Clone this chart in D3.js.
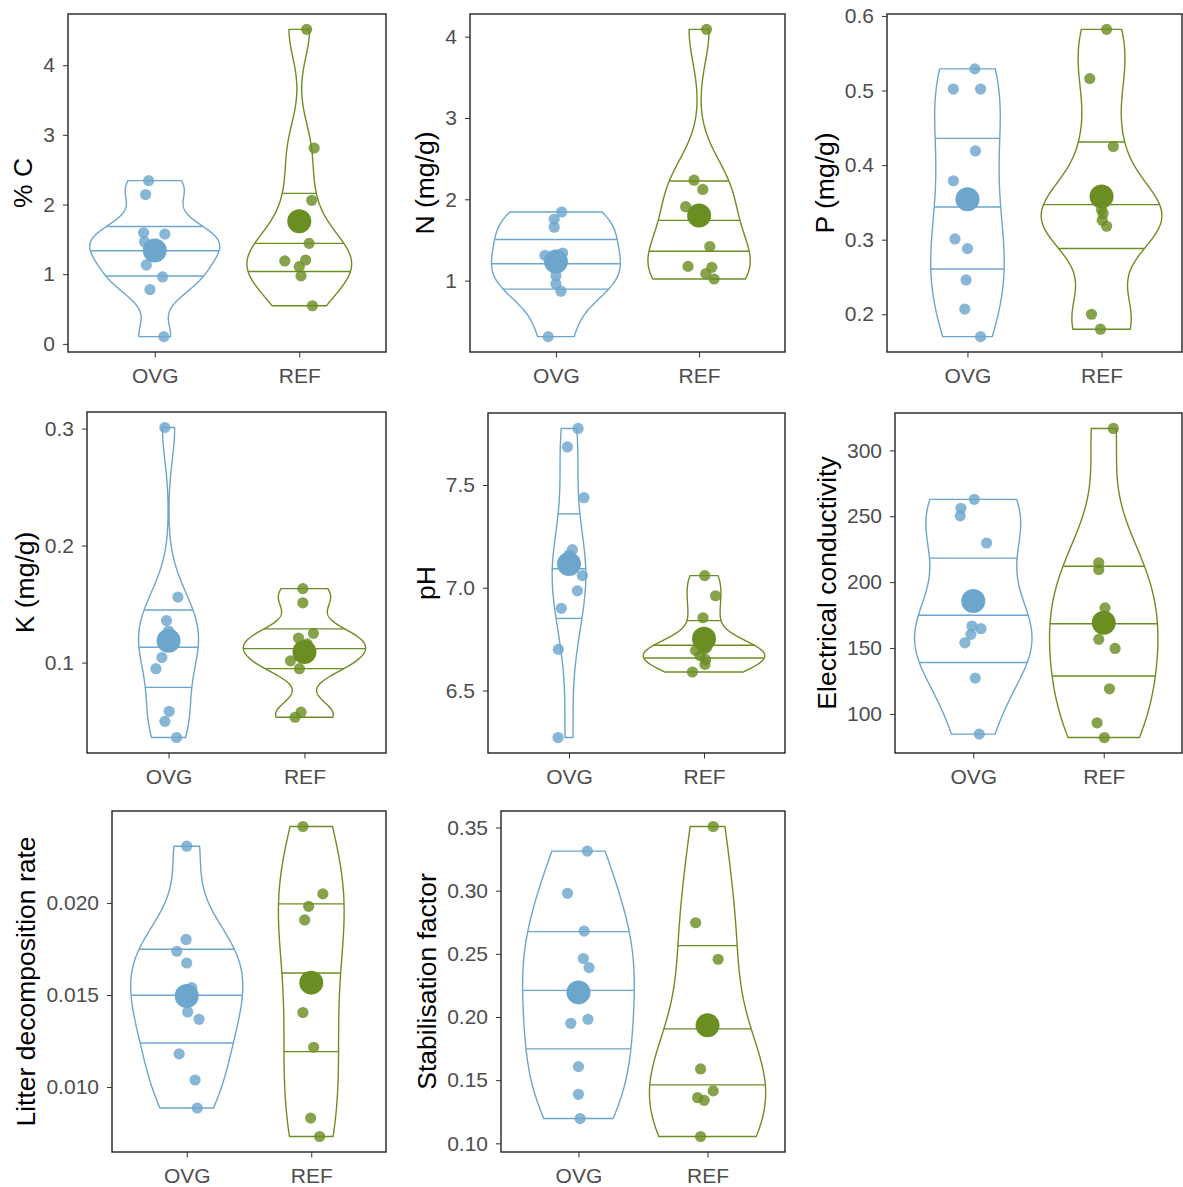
<!DOCTYPE html>
<html>
<head>
<meta charset="utf-8">
<script src="https://cdn.jsdelivr.net/npm/d3@7"></script>
<style>
  body { margin: 0; background: #fff; }
  text { font-family: "Liberation Sans", Arial, sans-serif; }
</style>
</head>
<body>
<div id="chart"></div>
<script>
// categories + colours
const groups = ["OVG", "REF"];
const groupColor = { OVG: "#6CA6CD", REF: "#6B8E23" };

// % C
const cOvg = [2.343, 2.143, 1.594, 1.576, 1.466, 1.31, 1.133, 0.961, 0.78, 0.104];
const cOvgJit = [-0.042, -0.063, -0.077, 0.070, -0.070, 0.0, -0.058, 0.054, -0.033, 0.063];
const cRef = [4.514, 2.809, 2.061, 1.443, 1.19, 1.204, 1.109, 0.976, 0.547];
const cRefJit = [0.051, 0.103, 0.086, 0.068, -0.100, 0.044, 0, 0.012, 0.091];
const cTicks = [0, 1, 2, 3, 4];
const cTickLabels = ["0", "1", "2", "3", "4"];

// N (mg/g)
const nOvg = [1.844, 1.754, 1.657, 1.31, 1.339, 1.06, 0.96, 0.87, 0.311];
const nOvgJit = [0.040, -0.012, -0.012, -0.077, 0.047, 0.0, 0, 0.035, -0.054];
const nRef = [4.09, 2.235, 2.121, 1.909, 1.419, 1.175, 1.163, 1.086, 1.02];
const nRefJit = [0.052, -0.035, 0.026, -0.094, 0.075, -0.077, 0.089, 0.047, 0.105];
const nTicks = [1, 2, 3, 4];
const nTickLabels = ["1", "2", "3", "4"];

// P (mg/g)
const pOvg = [0.529, 0.502, 0.502, 0.419, 0.379, 0.301, 0.288, 0.246, 0.207, 0.170];
const pOvgJit = [0.055, -0.105, 0.098, 0.06, -0.105, -0.093, 0, -0.01, -0.02, 0.098];
const pRef = [0.582, 0.516, 0.425, 0.34, 0.335, 0.326, 0.318, 0.200, 0.180];
const pRefJit = [0.038, -0.088, 0.088, 0.0, 0.012, 0.005, 0.038, -0.075, -0.008];
const pTicks = [0.2, 0.3, 0.4, 0.5, 0.6];
const pTickLabels = ["0.2", "0.3", "0.4", "0.5", "0.6"];

// K (mg/g)
const kOvg = [0.3009, 0.156, 0.1359, 0.127, 0.124, 0.1043, 0.0948, 0.0584, 0.0498, 0.036];
const kOvgJit = [-0.027, 0.069, -0.015, 0.0, 0.02, -0.049, -0.093, 0.005, -0.027, 0.059];
const kRef = [0.1632, 0.1511, 0.125, 0.121, 0.116, 0.108, 0.1015, 0.0948, 0.0576, 0.0533];
const kRefJit = [-0.012, -0.012, 0.066, -0.044, 0.02, -0.01, -0.103, -0.037, -0.025, -0.069];
const kTicks = [0.1, 0.2, 0.3];
const kTickLabels = ["0.1", "0.2", "0.3"];

// pH
const phOvg = [7.775, 7.685, 7.438, 7.185, 7.16, 7.059, 6.985, 6.90, 6.70, 6.271];
const phOvgJit = [0.067, -0.012, 0.111, 0.025, 0.0, 0.099, 0.062, -0.057, -0.079, -0.081];
const phRef = [7.059, 6.961, 6.854, 6.70, 6.71, 6.67, 6.695, 6.65, 6.627, 6.59];
const phRefJit = [0.005, 0.086, -0.007, 0.0, 0.02, -0.03, -0.062, 0.012, 0.007, -0.086];
const phTicks = [6.5, 7.0, 7.5];
const phTickLabels = ["6.5", "7.0", "7.5"];

// Electrical conductivity
const ecOvg = [262.8, 256.0, 250.3, 229.7, 166.7, 164.7, 160.4, 154.0, 127.2, 84.7];
const ecOvgJit = [0.008, -0.095, -0.1, 0.102, -0.01, 0.059, -0.018, -0.064, 0.015, 0.046];
const ecRef = [316.6, 214.7, 209.6, 180.5, 156.6, 149.7, 119.1, 93.3, 82.1];
const ecRefJit = [0.074, -0.038, -0.038, 0.01, -0.038, 0.087, 0.044, -0.051, 0.005];
const ecTicks = [100, 150, 200, 250, 300];
const ecTickLabels = ["100", "150", "200", "250", "300"];

// Litter decomposition rate
const ldOvg = [0.02309, 0.01802, 0.01738, 0.01674, 0.0154, 0.01408, 0.01368, 0.0118, 0.01038, 0.00886];
const ldOvgJit = [0, -0.005, -0.08, 0, 0.04, 0.008, 0.099, -0.061, 0.067, 0.085];
const ldRef = [0.02416, 0.0205, 0.01982, 0.01908, 0.01405, 0.01216, 0.00831, 0.00731];
const ldRefJit = [-0.067, 0.093, -0.021, -0.053, -0.067, 0.019, -0.005, 0.067];
const ldTicks = [0.010, 0.015, 0.020];
const ldTickLabels = ["0.010", "0.015", "0.020"];

// Stabilisation factor
const sfOvg = [0.3313, 0.2979, 0.268, 0.2463, 0.2391, 0.1982, 0.195, 0.1607, 0.1388, 0.1196];
const sfOvgJit = [0.069, -0.085, 0.044, 0.038, 0.082, 0.074, -0.059, 0, 0, 0.013];
const sfRef = [0.3508, 0.2746, 0.2457, 0.1589, 0.1415, 0.1361, 0.134, 0.1054];
const sfRefJit = [0.044, -0.092, 0.082, -0.054, 0.044, -0.077, -0.026, -0.054];
const sfTicks = [0.10, 0.15, 0.20, 0.25, 0.30, 0.35];
const sfTickLabels = ["0.10", "0.15", "0.20", "0.25", "0.30", "0.35"];

const panels = [
  { title: "% C", ovg: cOvg, ovgJit: cOvgJit, ref: cRef, refJit: cRefJit, ticks: cTicks, labels: cTickLabels, box: { x: 68, y: 14, w: 318, h: 338 } },
  { title: "N (mg/g)", ovg: nOvg, ovgJit: nOvgJit, ref: nRef, refJit: nRefJit, ticks: nTicks, labels: nTickLabels, box: { x: 470, y: 14, w: 315, h: 338 } },
  { title: "P (mg/g)", ovg: pOvg, ovgJit: pOvgJit, ref: pRef, refJit: pRefJit, ticks: pTicks, labels: pTickLabels, box: { x: 887, y: 14, w: 295, h: 338 } },
  { title: "K (mg/g)", ovg: kOvg, ovgJit: kOvgJit, ref: kRef, refJit: kRefJit, ticks: kTicks, labels: kTickLabels, box: { x: 87, y: 412, w: 299, h: 341 } },
  { title: "pH", ovg: phOvg, ovgJit: phOvgJit, ref: phRef, refJit: phRefJit, ticks: phTicks, labels: phTickLabels, box: { x: 488, y: 413, w: 297, h: 340 } },
  { title: "Electrical conductivity", ovg: ecOvg, ovgJit: ecOvgJit, ref: ecRef, refJit: ecRefJit, ticks: ecTicks, labels: ecTickLabels, box: { x: 895, y: 413, w: 287, h: 340 } },
  { title: "Litter decomposition rate", ovg: ldOvg, ovgJit: ldOvgJit, ref: ldRef, refJit: ldRefJit, ticks: ldTicks, labels: ldTickLabels, box: { x: 112, y: 811, w: 274, h: 341 } },
  { title: "Stabilisation factor", ovg: sfOvg, ovgJit: sfOvgJit, ref: sfRef, refJit: sfRefJit, ticks: sfTicks, labels: sfTickLabels, box: { x: 501, y: 811, w: 284, h: 341 } }
];

const svg = d3.select("#chart").append("svg")
  .attr("width", 1183)
  .attr("height", 1187);

// bandwidth like R's bw.nrd0
function bwNrd0(x) {
  const s = d3.deviation(x);
  const iqr = d3.quantile(x, 0.75) - d3.quantile(x, 0.25);
  let lo = Math.min(s, iqr / 1.34);
  if (!lo) lo = s || 1;
  return 0.9 * lo * Math.pow(x.length, -0.2);
}

// gaussian kde, trimmed to the data range (512 points, as ggplot does)
function kde(x) {
  const bw = bwNrd0(x);
  const [lo, hi] = d3.extent(x);
  const n = 512;
  const k = 1 / (x.length * bw * Math.sqrt(2 * Math.PI));
  return d3.range(n).map(i => {
    const y = lo + (hi - lo) * i / (n - 1);
    const s = d3.sum(x, v => Math.exp(-0.5 * ((y - v) / bw) ** 2));
    return { y: y, d: s * k };
  });
}

function drawPanel(p) {
  const g = svg.append("g").attr("transform", `translate(${p.box.x},${p.box.y})`);
  const all = p.ovg.concat(p.ref);
  const ext = d3.extent(all);
  const pad = (ext[1] - ext[0]) * 0.05;

  const y = d3.scaleLinear().domain([ext[0] - pad, ext[1] + pad]).range([p.box.h, 0]);
  const x = d3.scalePoint().domain(groups).range([0, p.box.w]).padding(0.6);

  const sets = [
    { key: "OVG", vals: p.ovg, jit: p.ovgJit },
    { key: "REF", vals: p.ref, jit: p.refJit }
  ];
  sets.forEach(s => { s.dens = kde(s.vals); });
  const maxD = d3.max(sets, s => d3.max(s.dens, d => d.d));
  const half = 0.45 * x.step();

  sets.forEach(s => {
    const cx = x(s.key);
    const col = groupColor[s.key];
    const w = d => d / maxD * half;

    const area = d3.area()
      .y(d => y(d.y))
      .x0(d => cx - w(d.d))
      .x1(d => cx + w(d.d));
    g.append("path")
      .datum(s.dens)
      .attr("d", area)
      .attr("fill", "none")
      .attr("stroke", col)
      .attr("stroke-width", 1.4);

    // quantile lines (25/50/75) from the density's cdf
    const cum = d3.cumsum(s.dens, d => d.d);
    const tot = cum[cum.length - 1];
    [0.25, 0.5, 0.75].forEach(q => {
      const i = cum.findIndex(c => c / tot >= q);
      const a = s.dens[i - 1], b = s.dens[i];
      const t = (q - cum[i - 1] / tot) / ((cum[i] - cum[i - 1]) / tot);
      const yq = a.y + t * (b.y - a.y);
      const dq = a.d + t * (b.d - a.d);
      g.append("line")
        .attr("x1", cx - w(dq)).attr("x2", cx + w(dq))
        .attr("y1", y(yq)).attr("y2", y(yq))
        .attr("stroke", col)
        .attr("stroke-width", 1.4);
    });

    // jittered points
    g.selectAll(null)
      .data(s.vals.map((v, i) => ({ v: v, j: s.jit[i] })))
      .join("circle")
      .attr("cx", d => cx + d.j * x.step())
      .attr("cy", d => y(d.v))
      .attr("r", 5.6)
      .attr("fill", col)
      .attr("fill-opacity", 0.82);

    // mean
    g.append("circle")
      .attr("cx", cx)
      .attr("cy", y(d3.mean(s.vals)))
      .attr("r", 12)
      .attr("fill", col);
  });

  // border
  g.append("rect")
    .attr("width", p.box.w).attr("height", p.box.h)
    .attr("fill", "none")
    .attr("stroke", "#222")
    .attr("stroke-width", 1.4);

  // y axis
  const ya = g.append("g")
    .call(d3.axisLeft(y).tickValues(p.ticks).tickFormat((d, i) => p.labels[i]).tickSize(5).tickPadding(8).tickSizeOuter(0));
  ya.select(".domain").remove();
  ya.selectAll("line").attr("stroke", "#333");
  ya.selectAll("text").attr("font-size", 21).attr("fill", "#4d4d4d");

  // x axis
  const xa = g.append("g")
    .attr("transform", `translate(0,${p.box.h})`)
    .call(d3.axisBottom(x).tickSize(5.5).tickPadding(11).tickSizeOuter(0));
  xa.select(".domain").remove();
  xa.selectAll("line").attr("stroke", "#333");
  xa.selectAll("text").attr("font-size", 21).attr("fill", "#4d4d4d");

  // y title, just left of the widest tick label
  const left = ya.node().getBBox().x;
  g.append("text")
    .attr("transform", `translate(${left - 11},${p.box.h / 2}) rotate(-90)`)
    .attr("text-anchor", "middle")
    .attr("font-size", 26.5)
    .attr("fill", "#000")
    .text(p.title);
}

panels.forEach(drawPanel);
</script>
</body>
</html>
